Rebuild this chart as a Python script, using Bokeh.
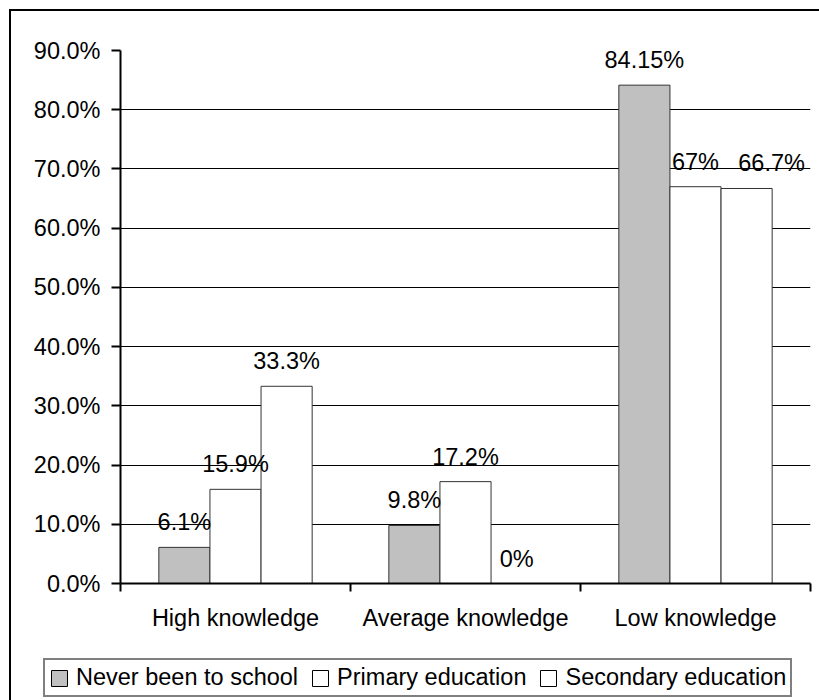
from bokeh.plotting import figure
from bokeh.layouts import column
from bokeh.models import (ColumnDataSource, FixedTicker, SingleIntervalTicker,
                          NumeralTickFormatter, Legend, LegendItem, LabelSet,
                          Range1d)
from bokeh.core.properties import value
from bokeh.transform import dodge
from bokeh.embed import file_html
from bokeh.resources import INLINE

# Knowledge level by education (share of respondents, %)
categories = ["High knowledge", "Average knowledge", "Low knowledge"]
series = ["Never been to school", "Primary education", "Secondary education"]
never_school = [6.1, 9.8, 84.15]
primary = [15.9, 17.2, 67.0]
secondary = [33.3, 0.0, 66.7]

FONT = "Liberation Sans"
FS = "23.5px"
W = 808

values = [never_school, primary, secondary]
fills = ["#C0C0C0", "#FFFFFF", "#FFFFFF"]
bar_line = "#333333"
bar_w = 2 / 9
offsets = [-bar_w, 0.0, bar_w]
# sideways nudge (px) of the value labels, so neighbours don't collide
label_nudge = [[0, 0, 0], [0, 0, 0], [0, 0, 25]]

centers = [i + 0.5 for i in range(len(categories))]
data = {"x": centers}
for k, vals in enumerate(values):
    data[f"v{k}"] = [v / 100 for v in vals]
    data[f"t{k}"] = [f"{v:g}%" for v in vals]
    data[f"n{k}"] = label_nudge[k]
src = ColumnDataSource(data)

# ---- main bar chart ----
p = figure(width=W, height=640,
           x_range=Range1d(0, len(categories)), y_range=Range1d(0, 0.9),
           output_backend="svg", toolbar_location=None,
           min_border_left=109, min_border_right=9,
           min_border_top=39, min_border_bottom=68,
           outline_line_color=None,
           background_fill_color="white", border_fill_color="white")
p.frame_align = False

p.xgrid.grid_line_color = None
p.ygrid.grid_line_color = "black"
p.ygrid.grid_line_width = 1
p.ygrid.ticker = SingleIntervalTicker(interval=0.1, num_minor_ticks=0)

ya = p.yaxis[0]
ya.ticker = SingleIntervalTicker(interval=0.1, num_minor_ticks=0)
ya.formatter = NumeralTickFormatter(format="0.0%")
ya.axis_line_color = "black"
ya.axis_line_width = 2
ya.major_tick_line_color = "black"
ya.major_tick_line_width = 2
ya.major_tick_out = 9
ya.major_tick_in = 0
ya.minor_tick_line_color = None
ya.major_label_standoff = 11
ya.major_label_text_font = FONT
ya.major_label_text_font_size = FS
ya.major_label_text_color = "black"

# category axis: names at centres, tick marks at category boundaries
xa = p.xaxis[0]
xa.ticker = FixedTicker(ticks=centers,
                        minor_ticks=[i for i in range(len(categories) + 1)])
xa.major_label_overrides = {c: name for c, name in zip(centers, categories)}
xa.axis_line_color = "black"
xa.axis_line_width = 2
xa.major_tick_out = 0
xa.major_tick_in = 0
xa.major_tick_line_color = None
xa.minor_tick_line_color = "black"
xa.minor_tick_line_width = 2
xa.minor_tick_out = 8
xa.minor_tick_in = 0
xa.major_label_standoff = 13
xa.major_label_text_font = FONT
xa.major_label_text_font_size = FS
xa.major_label_text_color = "black"

for k, name in enumerate(series):
    p.vbar(x=dodge("x", offsets[k], range=p.x_range), top=f"v{k}",
           width=bar_w, source=src, fill_color=fills[k],
           line_color=bar_line, line_width=1)
    p.add_layout(LabelSet(x=dodge("x", offsets[k], range=p.x_range),
                          y=f"v{k}", text=f"t{k}", source=src,
                          x_offset=f"n{k}", y_offset=17,
                          text_align="center", text_baseline="alphabetic",
                          text_font=value(FONT), text_font_size=value(FS),
                          text_color="black"))

# ---- legend strip (its bars sit outside the visible y range) ----
lg = figure(width=W, height=49, x_range=Range1d(0, len(categories)),
            y_range=Range1d(2, 3),
            output_backend="svg", toolbar_location=None,
            x_axis_location=None, y_axis_location=None,
            min_border=0, outline_line_color=None,
            background_fill_color="white", border_fill_color="white")
lg.frame_align = False
lg.xgrid.grid_line_color = None
lg.ygrid.grid_line_color = None

items = []
for k, name in enumerate(series):
    r = lg.vbar(x=dodge("x", offsets[k], range=lg.x_range), top=f"v{k}",
                width=bar_w, source=src, fill_color=fills[k],
                line_color="black", line_width=1)
    items.append(LegendItem(label=name, renderers=[r]))

legend = Legend(items=items, orientation="horizontal", location=(32, 3),
                border_line_color="black", border_line_width=2,
                background_fill_color="white", background_fill_alpha=1,
                label_text_font=FONT, label_text_font_size=FS,
                label_text_color="black",
                glyph_width=20, glyph_height=20, label_standoff=7,
                spacing=12, padding=4, margin=0)
lg.add_layout(legend, "center")

# outer chart border: left and top edges sit inside the window
page = column(p, lg, spacing=0,
              styles={"margin-left": "9px", "margin-top": "9px",
                      "border-left": "2px solid black",
                      "border-top": "2px solid black"})

open("out.html", "w").write(file_html(page, INLINE))
